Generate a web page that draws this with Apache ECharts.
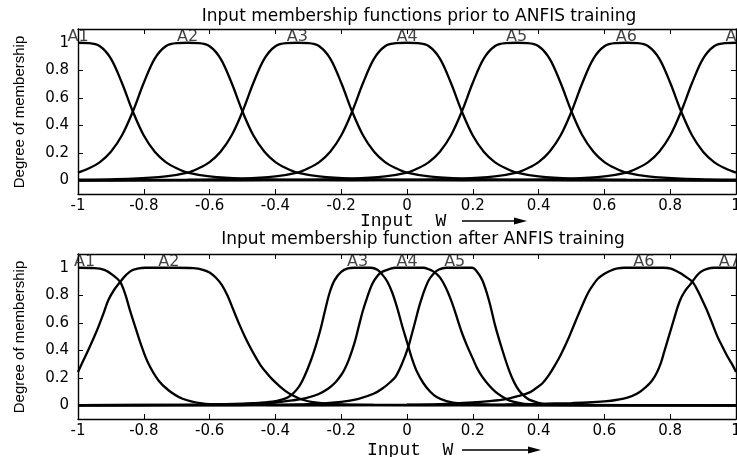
<!DOCTYPE html>
<html>
<head>
<meta charset="utf-8">
<script src="https://cdn.jsdelivr.net/npm/echarts@6/dist/echarts.min.js"></script>
<style>html,body{margin:0;padding:0;background:#fff}#c{width:737px;height:457px}</style>
</head>
<body>
<div id="c"></div>
<script>
// ---- data ----
var mfNames = ['A1','A2','A3','A4','A5','A6','A7'];
var xTicks = [-1,-0.8,-0.6,-0.4,-0.2,0,0.2,0.4,0.6,0.8,1];
var yTicks = [0,0.2,0.4,0.6,0.8,1];
var topLabelX = [-1,-0.6667,-0.3333,0,0.3333,0.6667,1];
var botLabelX = [-0.98,-0.724,-0.15,0,0.145,0.72,0.98];

var topA1 = [[-1,1],[-0.9667,0.998],[-0.9333,0.975],[-0.9,0.885],[-0.8667,0.709],[-0.8333,0.5],[-0.8,0.325],[-0.7667,0.207],[-0.7333,0.132],[-0.7,0.087],[-0.6667,0.055],[-0.6,0.028],[-0.5,0.012],[-0.3333,0.004],[0,0.001],[1,0]];
var topA2 = [[-1,0.055],[-0.9667,0.087],[-0.9333,0.132],[-0.9,0.207],[-0.8667,0.325],[-0.8333,0.5],[-0.8,0.709],[-0.7667,0.885],[-0.7333,0.975],[-0.7,0.998],[-0.6667,1],[-0.6333,0.998],[-0.6,0.975],[-0.5667,0.885],[-0.5333,0.709],[-0.5,0.5],[-0.4667,0.325],[-0.4333,0.207],[-0.4,0.132],[-0.3667,0.087],[-0.3333,0.055],[-0.2667,0.028],[-0.1667,0.012],[0,0.004],[0.3333,0.001],[1,0]];
var topA3 = [[-1,0.004],[-0.8333,0.012],[-0.7333,0.028],[-0.6667,0.055],[-0.6333,0.087],[-0.6,0.132],[-0.5667,0.207],[-0.5333,0.325],[-0.5,0.5],[-0.4667,0.709],[-0.4333,0.885],[-0.4,0.975],[-0.3667,0.998],[-0.3333,1],[-0.3,0.998],[-0.2667,0.975],[-0.2333,0.885],[-0.2,0.709],[-0.1667,0.5],[-0.1333,0.325],[-0.1,0.207],[-0.0667,0.132],[-0.0333,0.087],[0,0.055],[0.0667,0.028],[0.1667,0.012],[0.3333,0.004],[0.6667,0.001],[1,0]];
var topA4 = [[-1,0.001],[-0.6667,0.004],[-0.5,0.012],[-0.4,0.028],[-0.3333,0.055],[-0.3,0.087],[-0.2667,0.132],[-0.2333,0.207],[-0.2,0.325],[-0.1667,0.5],[-0.1333,0.709],[-0.1,0.885],[-0.0667,0.975],[-0.0333,0.998],[0,1],[0.0333,0.998],[0.0667,0.975],[0.1,0.885],[0.1333,0.709],[0.1667,0.5],[0.2,0.325],[0.2333,0.207],[0.2667,0.132],[0.3,0.087],[0.3333,0.055],[0.4,0.028],[0.5,0.012],[0.6667,0.004],[1,0.001]];
var topA5 = [[-1,0],[-0.6667,0.001],[-0.3333,0.004],[-0.1667,0.012],[-0.0667,0.028],[0,0.055],[0.0333,0.087],[0.0667,0.132],[0.1,0.207],[0.1333,0.325],[0.1667,0.5],[0.2,0.709],[0.2333,0.885],[0.2667,0.975],[0.3,0.998],[0.3333,1],[0.3667,0.998],[0.4,0.975],[0.4333,0.885],[0.4667,0.709],[0.5,0.5],[0.5333,0.325],[0.5667,0.207],[0.6,0.132],[0.6333,0.087],[0.6667,0.055],[0.7333,0.028],[0.8333,0.012],[1,0.004]];
var topA6 = [[-1,0],[-0.3333,0.001],[0,0.004],[0.1667,0.012],[0.2667,0.028],[0.3333,0.055],[0.3667,0.087],[0.4,0.132],[0.4333,0.207],[0.4667,0.325],[0.5,0.5],[0.5333,0.709],[0.5667,0.885],[0.6,0.975],[0.6333,0.998],[0.6667,1],[0.7,0.998],[0.7333,0.975],[0.7667,0.885],[0.8,0.709],[0.8333,0.5],[0.8667,0.325],[0.9,0.207],[0.9333,0.132],[0.9667,0.087],[1,0.055]];
var topA7 = [[-1,0],[0,0.001],[0.3333,0.004],[0.5,0.012],[0.6,0.028],[0.6667,0.055],[0.7,0.087],[0.7333,0.132],[0.7667,0.207],[0.8,0.325],[0.8333,0.5],[0.8667,0.709],[0.9,0.885],[0.9333,0.975],[0.9667,0.998],[1,1]];

var botA1 = [[-1,1],[-0.95,0.998],[-0.92,0.985],[-0.893,0.945],[-0.872,0.897],[-0.857,0.812],[-0.842,0.69],[-0.826,0.57],[-0.806,0.424],[-0.786,0.303],[-0.756,0.182],[-0.725,0.109],[-0.684,0.049],[-0.623,0.014],[-0.55,0.006],[-0.4,0.002],[0,0.0005],[1,0]];
var botA2 = [[-1,0.242],[-0.985,0.32],[-0.969,0.4],[-0.953,0.485],[-0.938,0.57],[-0.923,0.665],[-0.908,0.764],[-0.89,0.84],[-0.872,0.897],[-0.855,0.945],[-0.837,0.98],[-0.815,0.996],[-0.796,1],[-0.7,1],[-0.65,0.997],[-0.62,0.985],[-0.6,0.965],[-0.58,0.925],[-0.563,0.875],[-0.545,0.795],[-0.528,0.695],[-0.51,0.59],[-0.492,0.495],[-0.475,0.415],[-0.46,0.35],[-0.445,0.29],[-0.43,0.245],[-0.41,0.19],[-0.39,0.145],[-0.37,0.105],[-0.35,0.075],[-0.32,0.042],[-0.28,0.02],[-0.22,0.008],[-0.1,0.003],[0.2,0.001],[1,0]];
var botA3 = [[-1,0.001],[-0.7,0.003],[-0.55,0.008],[-0.45,0.018],[-0.4,0.03],[-0.36,0.06],[-0.33,0.13],[-0.31,0.22],[-0.29,0.34],[-0.275,0.45],[-0.262,0.56],[-0.248,0.7],[-0.235,0.82],[-0.22,0.91],[-0.2,0.97],[-0.18,0.995],[-0.16,1],[-0.11,1],[-0.09,0.985],[-0.075,0.95],[-0.06,0.9],[-0.045,0.82],[-0.03,0.71],[-0.015,0.58],[0,0.46],[0.015,0.34],[0.03,0.245],[0.05,0.16],[0.07,0.1],[0.09,0.06],[0.12,0.03],[0.16,0.013],[0.25,0.005],[0.5,0.001],[1,0]];
var botA4 = [[-1,0.001],[-0.6,0.004],[-0.5,0.008],[-0.4,0.02],[-0.35,0.035],[-0.31,0.05],[-0.27,0.08],[-0.24,0.12],[-0.218,0.165],[-0.2,0.22],[-0.19,0.26],[-0.177,0.33],[-0.16,0.45],[-0.147,0.57],[-0.135,0.68],[-0.123,0.77],[-0.106,0.88],[-0.09,0.94],[-0.076,0.97],[-0.05,0.993],[-0.035,1],[0.05,1],[0.065,0.99],[0.082,0.97],[0.1,0.93],[0.117,0.86],[0.133,0.77],[0.148,0.667],[0.158,0.59],[0.168,0.52],[0.183,0.43],[0.198,0.35],[0.213,0.27],[0.229,0.206],[0.249,0.145],[0.269,0.097],[0.29,0.062],[0.31,0.036],[0.34,0.018],[0.371,0.008],[0.45,0.003],[0.7,0.001],[1,0]];
var botA5 = [[-1,0.0005],[-0.5,0.002],[-0.3,0.008],[-0.2,0.025],[-0.15,0.045],[-0.1,0.085],[-0.07,0.13],[-0.05,0.17],[-0.035,0.206],[-0.015,0.303],[0.004,0.424],[0.015,0.52],[0.026,0.618],[0.036,0.71],[0.046,0.788],[0.056,0.855],[0.066,0.909],[0.08,0.955],[0.097,0.987],[0.12,1],[0.198,1],[0.21,0.98],[0.229,0.909],[0.249,0.764],[0.269,0.57],[0.29,0.4],[0.31,0.255],[0.325,0.17],[0.34,0.109],[0.355,0.07],[0.371,0.041],[0.4,0.018],[0.422,0.008],[0.5,0.003],[1,0.0005]];
var botA6 = [[-1,0],[-0.5,0.001],[0,0.004],[0.1,0.008],[0.2,0.02],[0.25,0.03],[0.3,0.045],[0.34,0.068],[0.371,0.092],[0.39,0.12],[0.411,0.158],[0.43,0.215],[0.452,0.3],[0.467,0.365],[0.482,0.44],[0.495,0.51],[0.513,0.615],[0.538,0.755],[0.551,0.82],[0.564,0.87],[0.58,0.92],[0.599,0.955],[0.62,0.98],[0.64,0.995],[0.66,1],[0.78,1],[0.802,0.994],[0.82,0.975],[0.833,0.958],[0.85,0.93],[0.868,0.897],[0.88,0.85],[0.893,0.788],[0.91,0.7],[0.924,0.618],[0.944,0.497],[0.96,0.42],[0.975,0.351],[0.99,0.29],[1,0.242]];
var botA7 = [[-1,0],[0,0.002],[0.3,0.006],[0.4,0.01],[0.5,0.016],[0.55,0.02],[0.6,0.028],[0.64,0.04],[0.67,0.055],[0.7,0.085],[0.725,0.13],[0.745,0.18],[0.76,0.24],[0.772,0.31],[0.782,0.39],[0.792,0.47],[0.802,0.55],[0.812,0.63],[0.822,0.71],[0.833,0.78],[0.845,0.83],[0.858,0.87],[0.868,0.9],[0.88,0.94],[0.893,0.97],[0.91,0.99],[0.934,1],[1,1]];

var topCurves = [topA1, topA2, topA3, topA4, topA5, topA6, topA7];
var botCurves = [botA1, botA2, botA3, botA4, botA5, botA6, botA7];

// ---- chart ----
var chart = echarts.init(document.getElementById('c'), null, {renderer: 'canvas'});
var TICK_FONT = 'DejaVu Sans';
var axisLineStyle = {color: '#000', width: 1.4};

function xAx(grid, pos, showLabel) {
  return {
    type: 'value', gridIndex: grid, position: pos, min: -1, max: 1, interval: 0.2,
    axisLine: {show: true, onZero: false, lineStyle: axisLineStyle},
    axisTick: {show: true, inside: true, length: 5, lineStyle: {color: '#000', width: 1}, customValues: xTicks},
    axisLabel: {show: showLabel, color: '#000', fontFamily: TICK_FONT, fontSize: 15, margin: 5,
                customValues: xTicks, hideOverlap: false, showMinLabel: true, showMaxLabel: true},
    splitLine: {show: false}
  };
}
function yAx(grid, pos, showLabel) {
  return {
    type: 'value', gridIndex: grid, position: pos, min: -0.1, max: 1.1,
    axisLine: {show: true, onZero: false, lineStyle: axisLineStyle},
    axisTick: {show: true, inside: true, length: 5, lineStyle: {color: '#000', width: 1}, customValues: yTicks},
    axisLabel: {show: showLabel, color: '#000', fontFamily: TICK_FONT, fontSize: 15, margin: 9, customValues: yTicks},
    splitLine: {show: false}
  };
}

var series = [];
function addCurves(curves, xi, yi) {
  curves.forEach(function (c, i) {
    series.push({
      type: 'line', name: mfNames[i], xAxisIndex: xi, yAxisIndex: yi, data: c,
      showSymbol: false, symbol: 'none', smooth: 0.35, clip: true,
      lineStyle: {color: '#000', width: 2.3}, silent: true
    });
  });
}
addCurves(topCurves, 0, 0);
addCurves(botCurves, 2, 2);

function addLabels(xs, xi, yi) {
  series.push({
    type: 'scatter', xAxisIndex: xi, yAxisIndex: yi, symbolSize: 1, clip: false,
    itemStyle: {color: 'rgba(0,0,0,0)'}, silent: true, z: 5,
    data: xs.map(function (x, i) { return {name: mfNames[i], value: [x, 1.045]}; }),
    label: {show: true, position: 'inside', formatter: '{b}', color: '#111',
            fontFamily: 'DejaVu Sans', fontSize: 16}
  });
}
addLabels(topLabelX, 0, 0);
addLabels(botLabelX, 2, 2);

function txt(x, y, s, font, align, rot) {
  return {
    type: 'text', x: x, y: y, rotation: rot || 0, silent: true, z: 10,
    style: {text: s, font: font, fill: '#000', align: align, textAlign: align,
            verticalAlign: 'middle', textVerticalAlign: 'middle'}
  };
}
function arrow(x1, x2, y) {
  return [
    {type: 'line', silent: true, shape: {x1: x1, y1: y, x2: x2 - 10, y2: y}, style: {stroke: '#000', lineWidth: 1.5}},
    {type: 'polygon', silent: true, shape: {points: [[x2 - 13, y - 3.5], [x2, y], [x2 - 13, y + 3.5]]}, style: {fill: '#000'}}
  ];
}

var graphics = [
  txt(419, 17, 'Input membership functions prior to ANFIS training', '17px "DejaVu Sans"', 'center'),
  txt(423, 240, 'Input membership function after ANFIS training', '17px "DejaVu Sans"', 'center'),
  txt(20, 112, 'Degree of membership', '15px "Liberation Sans"', 'center', Math.PI / 2),
  txt(20, 337, 'Degree of membership', '15px "Liberation Sans"', 'center', Math.PI / 2),
  txt(360, 221, 'Input  W', '18px "Liberation Mono"', 'left'),
  txt(367, 450, 'Input  W', '18px "Liberation Mono"', 'left')
].concat(arrow(462, 527, 221)).concat(arrow(462, 541, 450));

chart.setOption({
  animation: false,
  backgroundColor: '#fff',
  grid: [
    {left: 78, top: 29, width: 658, height: 165, show: false, containLabel: false, outerBoundsMode: 'none'},
    {left: 78, top: 254, width: 658, height: 165, show: false, containLabel: false, outerBoundsMode: 'none'}
  ],
  xAxis: [xAx(0, 'bottom', true), xAx(0, 'top', false), xAx(1, 'bottom', true), xAx(1, 'top', false)],
  yAxis: [yAx(0, 'left', true), yAx(0, 'right', false), yAx(1, 'left', true), yAx(1, 'right', false)],
  series: series,
  graphic: graphics
});
</script>
</body>
</html>
